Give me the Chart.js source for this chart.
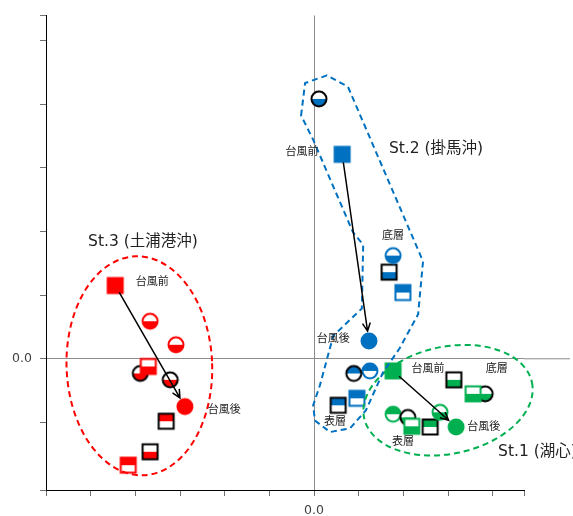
<!DOCTYPE html>
<html lang="ja">
<head>
<meta charset="utf-8">
<script src="https://cdn.jsdelivr.net/npm/chart.js@4.4.1/dist/chart.umd.min.js"></script>
<style>
  html, body { margin: 0; padding: 0; background: #fff; }
  #wrap { width: 573px; height: 516px; }
</style>
</head>
<body>
<div id="wrap"><canvas id="pcaChart" width="573" height="516"></canvas></div>
<script>
// 主成分得点（第1軸 x, 第2軸 y）
// 試料種別: pre=台風前, post=台風後, 他は表層/底層の各試料
const st1X    = [1.77, 3.18, 3.13, 3.56, 3.83, 1.77, 2.10, 2.19, 2.82, 2.60];
const st1Y    = [-0.19, -1.07, -0.33, -0.55, -0.55, -0.87, -0.92, -1.06, -0.84, -1.07];
const st1Kind = ['pre', 'post', 'sqK-lo', 'sqC-lo', 'ciK-lo', 'ciC-up', 'ciK-lo', 'sqC-lo', 'ciC-lo', 'sqK-up'];

const st2X    = [0.63, 1.23, 0.11, 1.77, 1.68, 1.99, 0.89, 1.25, 0.96, 0.54];
const st2Y    = [3.21, 0.28, 4.08, 1.62, 1.36, 1.04, -0.23, -0.19, -0.62, -0.73];
const st2Kind = ['pre', 'post', 'ciK-lo', 'ciC-lo', 'sqK-lo', 'sqC-up', 'ciK-up', 'ciC-up', 'sqC-up', 'sqK-up'];

const st3X    = [-4.45, -2.89, -3.67, -3.09, -3.71, -3.89, -3.22, -3.31, -3.67, -4.16];
const st3Y    = [1.15, -0.75, 0.59, 0.22, -0.12, -0.23, -0.33, -0.98, -1.46, -1.67];
const st3Kind = ['pre', 'post', 'ciC-lo', 'ciC-lo', 'sqC-lo', 'ciK-lo', 'ciK-lo', 'sqK-up', 'sqK-lo', 'sqC-up'];

const stationNames  = ['St.1 (湖心)', 'St.2 (掛馬沖)', 'St.3 (土浦港沖)'];
const stationColors = ['#00b050', '#0070c0', '#ff0000'];

// 軸目盛（0.0 のみラベル表示）
const xTicks = [-6, -5, -4, -3, -2, -1, 0, 1, 2, 3, 4, 4.7];
const yTicks = [-2.06, -1, 0, 1, 2, 3, 4, 5, 5.39];

// 注記（台風前/台風後/表層/底層）
const tagText = ['台風前', '台風後', '台風前', '台風後', '底層', '表層', '台風前', '台風後', '底層', '表層'];
const tagX    = [-3.62, -2.01, -0.27, 0.43, 1.77, 0.47, 2.55, 3.80, 4.09, 1.99];
const tagY    = [1.21, -0.81, 3.24, 0.31, 1.93, -1.00, -0.17, -1.07, -0.17, -1.31];

const titleX = [4.12, 2.73, -3.83];
const titleY = [-1.46, 3.29, 1.84];

const FONT = '"DejaVu Sans", "Noto Sans CJK JP", sans-serif';

function makeMarker(kind, color) {
  const c = document.createElement('canvas');
  c.width = c.height = 22;
  const g = c.getContext('2d');
  const path = new Path2D();
  if (kind === 'pre') {
    g.fillStyle = color;
    g.fillRect(2.5, 2.5, 17, 17);
    return c;
  }
  if (kind === 'post') {
    path.arc(11, 11, 8.5, 0, Math.PI * 2);
    g.fillStyle = color;
    g.fill(path);
    return c;
  }
  const [shape, half] = kind.split('-');
  if (shape.startsWith('ci')) path.arc(11, 11, 7.5, 0, Math.PI * 2);
  else path.rect(3.5, 3.5, 15, 15);
  g.fillStyle = '#fff';
  g.fill(path);
  g.save();
  g.clip(path);
  g.fillStyle = color;
  if (half === 'up') g.fillRect(0, 0, 22, 11);
  else g.fillRect(0, 11, 22, 11);
  g.restore();
  g.lineWidth = 2;
  g.strokeStyle = shape.endsWith('K') ? '#000' : color;
  g.stroke(path);
  return c;
}

const stations = [
  { xs: st1X, ys: st1Y, kinds: st1Kind },
  { xs: st2X, ys: st2Y, kinds: st2Kind },
  { xs: st3X, ys: st3Y, kinds: st3Kind }
];

const datasets = [];
stations.forEach((st, si) => {
  const byKind = new Map();
  st.kinds.forEach((k, i) => {
    if (!byKind.has(k)) byKind.set(k, []);
    byKind.get(k).push({ x: st.xs[i], y: st.ys[i] });
  });
  byKind.forEach((pts, k) => {
    datasets.push({
      label: stationNames[si] + ' ' + k,
      data: pts,
      pointStyle: makeMarker(k, stationColors[si]),
      pointRadius: 9
    });
  });
});

// 各地点の囲み（データ座標）
const hulls = [
  { type: 'ellipse', color: '#00b050', cx: 3.0, cy: -0.65, rx: 1.92, ry: 0.84, rot: -12 },
  { type: 'poly', color: '#0070c0', pts: [
    [-0.29, 3.82], [-0.20, 4.33], [0.29, 4.45], [0.76, 4.27], [2.44, 1.53], [2.33, 0.70],
    [1.92, 0.17], [1.54, -0.22], [1.16, -0.81], [0.81, -1.09], [0.36, -1.15], [0.02, -0.97],
    [-0.02, -0.73], [0.13, -0.42], [0.43, 0.36], [1.07, 0.79], [1.10, 1.79], [0.87, 1.99],
    [-0.02, 3.44]
  ] },
  { type: 'ellipse', color: '#ff0000', cx: -3.91, cy: -0.11, rx: 1.63, ry: 1.72, rot: -2 }
];

const overlay = {
  id: 'overlay',
  beforeDatasetsDraw(chart) {
    const { ctx, chartArea, scales: { y } } = chart;
    const py = y.getPixelForValue(0);
    ctx.save();
    ctx.strokeStyle = '#8c8c8c';
    ctx.lineWidth = 1;
    ctx.beginPath();
    ctx.moveTo(chartArea.right, py);
    ctx.lineTo(chart.width - 3, py);
    ctx.stroke();
    ctx.restore();
  },
  afterDatasetsDraw(chart) {
    const { ctx, scales: { x, y } } = chart;
    const px = v => x.getPixelForValue(v);
    const py = v => y.getPixelForValue(v);
    ctx.save();

    // 囲み
    ctx.lineWidth = 2;
    ctx.setLineDash([6, 4]);
    hulls.forEach(h => {
      ctx.strokeStyle = h.color;
      ctx.beginPath();
      if (h.type === 'ellipse') {
        const cx = px(h.cx), cy = py(h.cy);
        ctx.ellipse(cx, cy, Math.abs(px(h.cx + h.rx) - cx), Math.abs(py(h.cy + h.ry) - cy),
          h.rot * Math.PI / 180, 0, Math.PI * 2);
      } else {
        h.pts.forEach(([a, b], i) => i ? ctx.lineTo(px(a), py(b)) : ctx.moveTo(px(a), py(b)));
        ctx.closePath();
      }
      ctx.stroke();
    });
    ctx.setLineDash([]);

    // 台風前 → 台風後 の矢印
    ctx.strokeStyle = '#000';
    ctx.lineWidth = 1.5;
    stations.forEach(st => {
      const a = st.kinds.indexOf('pre'), b = st.kinds.indexOf('post');
      const x0 = px(st.xs[a]), y0 = py(st.ys[a]);
      const x1 = px(st.xs[b]), y1 = py(st.ys[b]);
      const ang = Math.atan2(y1 - y0, x1 - x0);
      const sx = x0 + Math.cos(ang) * 8, sy = y0 + Math.sin(ang) * 8;
      const ex = x1 - Math.cos(ang) * 10, ey = y1 - Math.sin(ang) * 10;
      ctx.beginPath();
      ctx.moveTo(sx, sy);
      ctx.lineTo(ex, ey);
      ctx.moveTo(ex - Math.cos(ang - 0.45) * 9, ey - Math.sin(ang - 0.45) * 9);
      ctx.lineTo(ex, ey);
      ctx.lineTo(ex - Math.cos(ang + 0.45) * 9, ey - Math.sin(ang + 0.45) * 9);
      ctx.stroke();
    });

    // 注記
    ctx.fillStyle = '#222';
    ctx.textBaseline = 'middle';
    ctx.textAlign = 'center';
    ctx.font = '11px ' + FONT;
    tagText.forEach((t, i) => ctx.fillText(t, px(tagX[i]), py(tagY[i])));

    ctx.font = '15.5px ' + FONT;
    stationNames.forEach((t, i) => {
      ctx.textAlign = i === 0 ? 'left' : 'center';
      ctx.fillText(t, px(titleX[i]), py(titleY[i]));
    });
    ctx.restore();
  }
};

const axisTicks = {
  color: '#404040',
  font: { family: FONT, size: 12.5 },
  autoSkip: false,
  maxRotation: 0,
  padding: 8,
  callback: v => (v === 0 ? '0.0' : '')
};
const axisGrid = {
  color: c => (c.tick && c.tick.value === 0 ? '#8c8c8c' : 'rgba(0,0,0,0)'),
  tickColor: '#707070',
  tickLength: 6,
  lineWidth: 1
};

new Chart(document.getElementById('pcaChart'), {
  type: 'scatter',
  data: { datasets },
  options: {
    responsive: false,
    animation: false,
    layout: { padding: { top: 12, right: 49, left: 0, bottom: 0 } },
    plugins: { legend: { display: false }, tooltip: { enabled: false } },
    scales: {
      x: {
        type: 'linear',
        min: xTicks[0],
        max: xTicks[xTicks.length - 1],
        afterBuildTicks: s => { s.ticks = xTicks.map(v => ({ value: v })); },
        afterFit: s => { s.height = 26; },
        border: { color: '#000', width: 1 },
        grid: axisGrid,
        ticks: Object.assign({}, axisTicks, { padding: 7 })
      },
      y: {
        type: 'linear',
        min: yTicks[0],
        max: yTicks[yTicks.length - 1],
        afterBuildTicks: s => { s.ticks = yTicks.map(v => ({ value: v })); },
        afterFit: s => { s.width = 46; },
        border: { color: '#000', width: 1 },
        grid: axisGrid,
        ticks: axisTicks
      }
    }
  },
  plugins: [overlay]
});
</script>
</body>
</html>
